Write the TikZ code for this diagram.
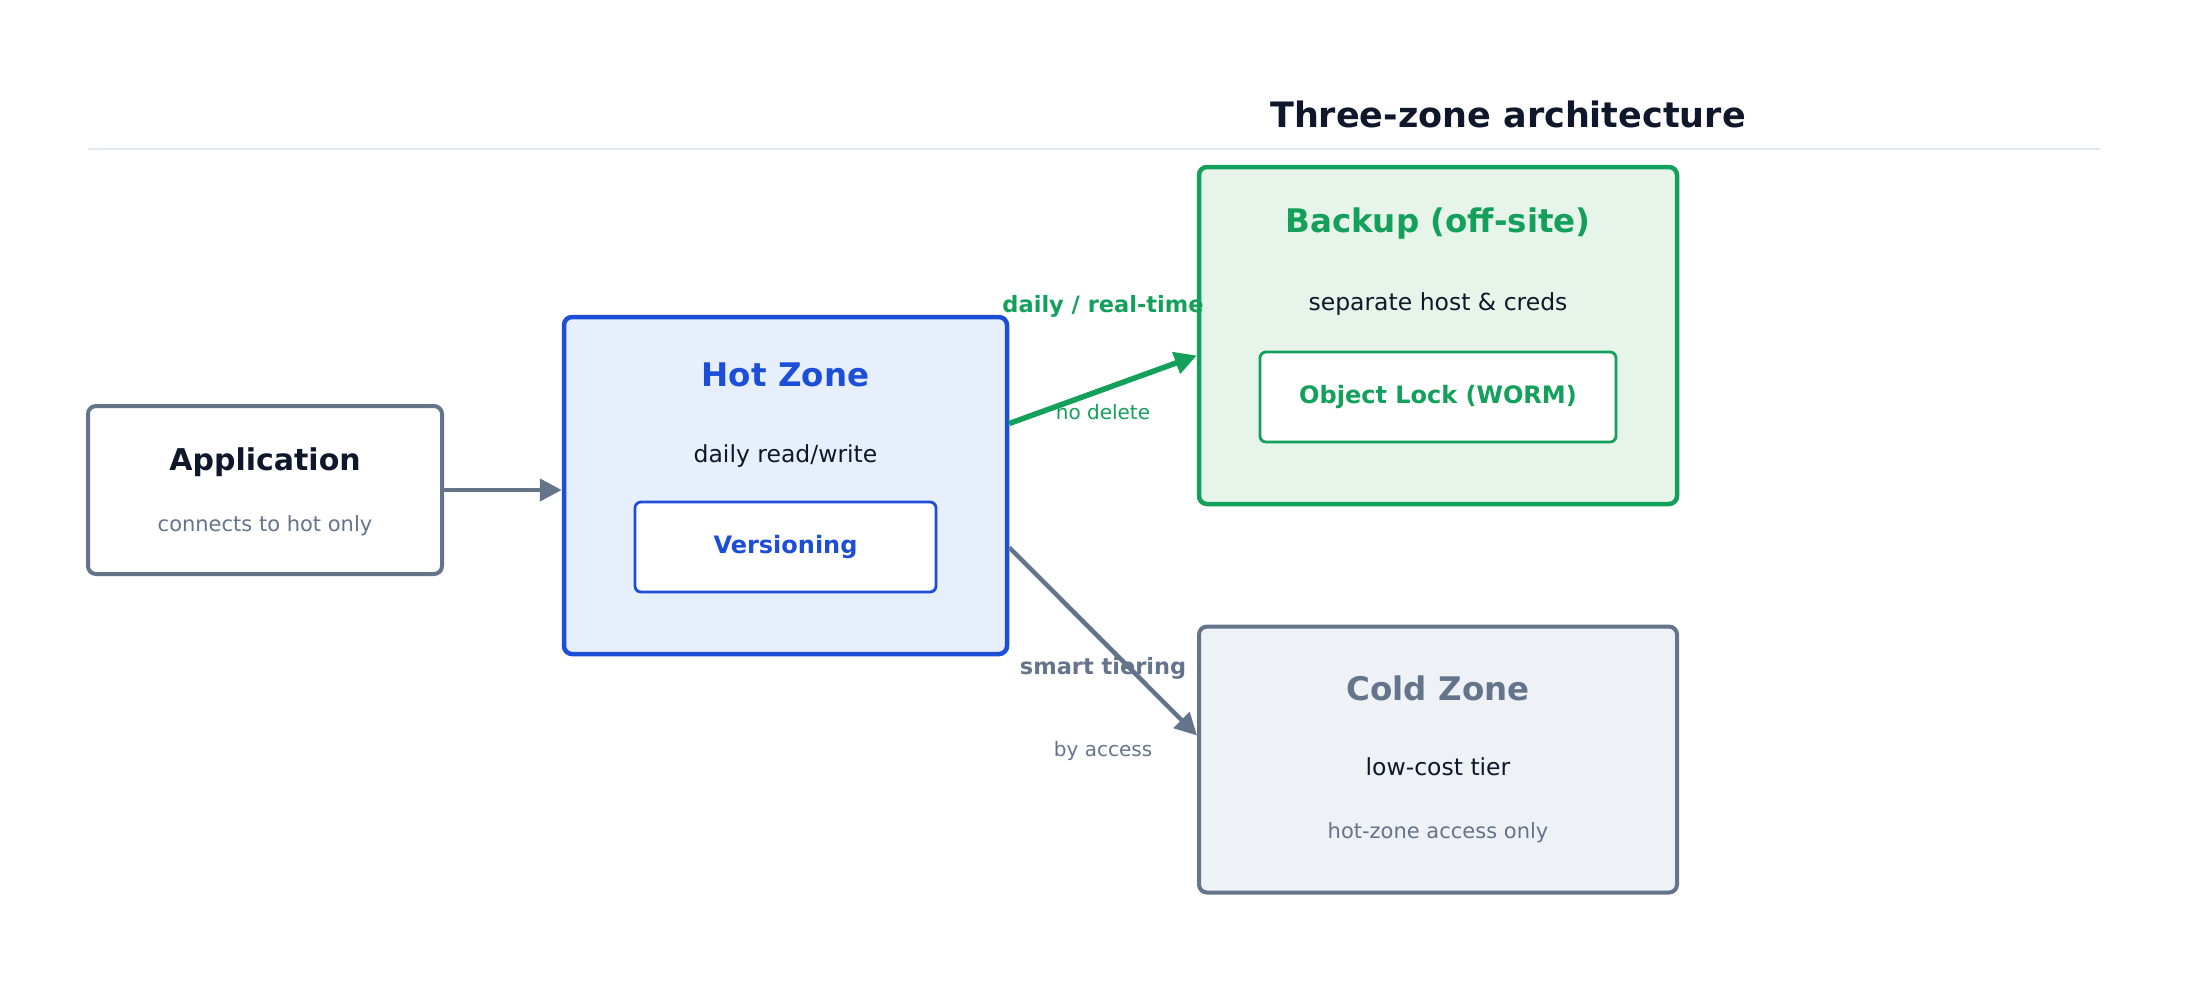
\documentclass[tikz,border=0pt]{standalone}
\usepackage{fontspec}
\setmainfont{DejaVu Sans}
\usetikzlibrary{positioning,arrows.meta}
\definecolor{Ink}{HTML}{0F172A}
\definecolor{Slate}{HTML}{64748B}
\definecolor{Royal}{HTML}{1D4ED8}
\definecolor{Sky}{HTML}{E8EFFC}
\definecolor{Leaf}{HTML}{12A05A}
\definecolor{Sage}{HTML}{E6F4EA}
\definecolor{Mist}{HTML}{EEF2F7}
\definecolor{Rule}{HTML}{E2E8F0}

\begin{document}
\begin{tikzpicture}[x=1pt, y=-1pt,
  zone/.style={draw, rounded corners=8pt, inner sep=0pt},
  tag/.style={draw, rounded corners=6pt, fill=white, line width=2.8pt, inner sep=0pt, minimum height=90pt},
  headline/.style={font=\fontsize{32.5}{39}\selectfont\bfseries},
  body/.style={font=\fontsize{23.5}{28}\selectfont, text=Ink},
  note/.style={font=\fontsize{21}{26}\selectfont, text=Slate},
  flow/.style={-{Triangle[length=22pt,width=22pt]}, line width=4.5pt, color=Slate},
  edgehead/.style={font=\fontsize{22.5}{27}\selectfont\bfseries},
  edgenote/.style={font=\fontsize{20}{24}\selectfont}]
\useasboundingbox (0,0) rectangle (2188,989);

% heading
\node[font=\fontsize{35}{42}\selectfont\bfseries, text=Ink] (title) at (1508,114) {Three-zone architecture};
\draw[Rule, line width=2.5pt] (88,149) -- (2100,149);

% application
\node[zone, draw=Slate, line width=4pt, fill=white, minimum width=354pt, minimum height=168pt] (app) at (265,490) {};
\node[font=\fontsize{30}{36}\selectfont\bfseries, text=Ink] (apptitle) at ([yshift=28pt]app.center) {Application};
\node[note] (appnote) at ([yshift=-36pt]app.center) {connects to hot only};

% hot zone
\node[zone, draw=Royal, line width=4.5pt, fill=Sky, minimum width=443pt, minimum height=337pt] (hot) at (785.5,485.5) {};
\node[headline, text=Royal] (hottitle) at ([yshift=111pt]hot.center) {Hot Zone};
\node[body] (hotnote) at ([yshift=29pt]hot.center) {daily read/write};
\node[tag, draw=Royal, minimum width=301pt, font=\fontsize{24}{29}\selectfont\bfseries, text=Royal] (versioning) at ([yshift=-61.5pt]hot.center) {Versioning};

% backup
\node[zone, draw=Leaf, line width=4.5pt, fill=Sage, minimum width=478pt, minimum height=337pt] (backup) at (1438,335.5) {};
\node[headline, text=Leaf] (backuptitle) at ([yshift=112pt]backup.center) {Backup (off-site)};
\node[body] (backupnote) at ([yshift=31pt]backup.center) {separate host \& creds};
\node[tag, draw=Leaf, minimum width=356pt, font=\fontsize{24}{29}\selectfont\bfseries, text=Leaf] (worm) at ([yshift=-61.5pt]backup.center) {Object Lock (WORM)};

% cold zone
\node[zone, draw=Slate, line width=4pt, fill=Mist, minimum width=478pt, minimum height=266pt] (cold) at (1438,759.5) {};
\node[headline, text=Slate] (coldtitle) at ([yshift=71pt]cold.center) {Cold Zone};
\node[body] (coldnote) at ([yshift=-7.5pt]cold.center) {low-cost tier};
\node[note] (coldaccess) at ([yshift=-73.5pt]cold.center) {hot-zone access only};

% connectors
\draw[flow] (app.east) -- (app.east -| hot.west);
\draw[flow, color=Leaf, line width=5.5pt] ([yshift=62pt]hot.east) -- ([yshift=-20pt]backup.west)
  node[midway, yshift=83pt, edgehead, text=Leaf] {daily / real-time}
  node[midway, yshift=-22.5pt, edgenote, text=Leaf] {no delete};
\draw[flow] ([yshift=-62pt]hot.east) -- ([yshift=24pt]cold.west)
  node[midway, yshift=-26.5pt, edgehead, text=Slate] {smart tiering}
  node[midway, yshift=-109.5pt, edgenote, text=Slate] {by access};
\end{tikzpicture}
\end{document}
